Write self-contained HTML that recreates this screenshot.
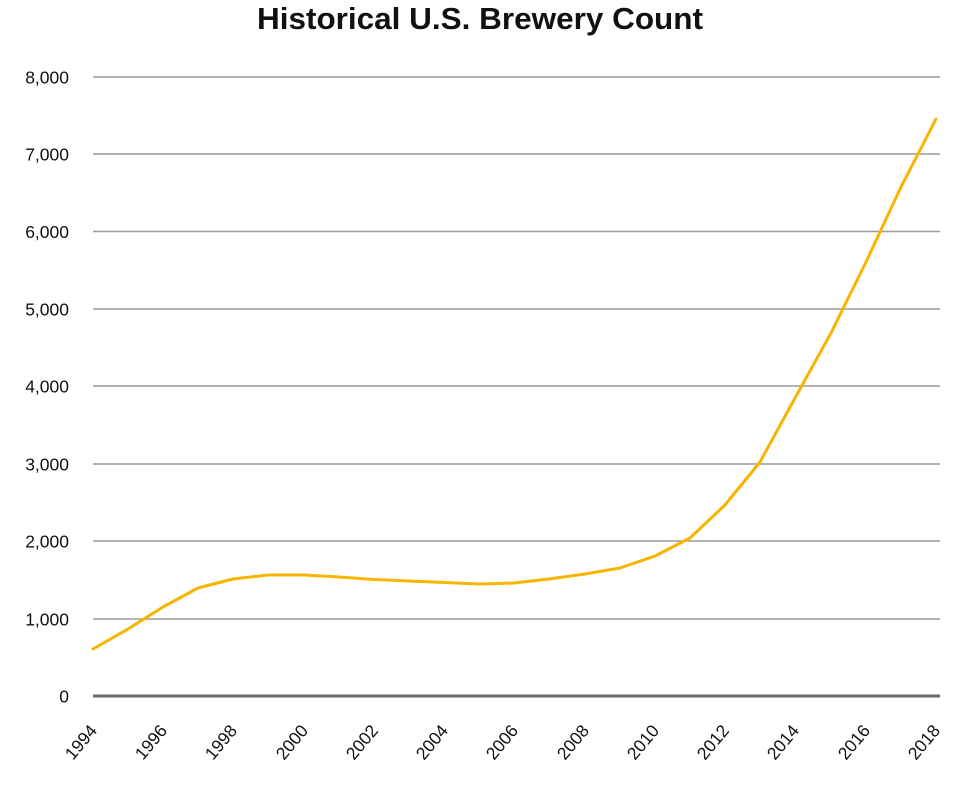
<!DOCTYPE html>
<html>
<head>
<meta charset="utf-8">
<style>
  html, body { margin: 0; padding: 0; background: #ffffff; }
  svg { display: block; }
  text { font-family: "Liberation Sans", "DejaVu Sans", sans-serif; fill: #111; }
</style>
</head>
<body>
<svg width="953" height="787" viewBox="0 0 953 787" xmlns="http://www.w3.org/2000/svg">
  <rect width="953" height="787" fill="#ffffff"/>
  <text x="480" y="29" text-anchor="middle" font-size="31" font-weight="bold" textLength="446" lengthAdjust="spacingAndGlyphs">Historical U.S. Brewery Count</text>

  <g stroke="#9a9a9a" stroke-width="1.4">
    <line x1="93" y1="77" x2="940" y2="77"/>
    <line x1="93" y1="154" x2="940" y2="154"/>
    <line x1="93" y1="231.5" x2="940" y2="231.5"/>
    <line x1="93" y1="309" x2="940" y2="309"/>
    <line x1="93" y1="386" x2="940" y2="386"/>
    <line x1="93" y1="464" x2="940" y2="464"/>
    <line x1="93" y1="541" x2="940" y2="541"/>
    <line x1="93" y1="619" x2="940" y2="619"/>
  </g>
  <line x1="93" y1="696" x2="940" y2="696" stroke="#6a6a6a" stroke-width="3"/>

  <g font-size="17.5" text-anchor="end">
    <text x="69" y="83.5">8,000</text>
    <text x="69" y="160.5">7,000</text>
    <text x="69" y="238">6,000</text>
    <text x="69" y="315.5">5,000</text>
    <text x="69" y="392.5">4,000</text>
    <text x="69" y="470.5">3,000</text>
    <text x="69" y="547.5">2,000</text>
    <text x="69" y="625.5">1,000</text>
    <text x="69" y="702.5">0</text>
  </g>

  <g font-size="17.5" text-anchor="end">
    <text transform="translate(98,731) rotate(-50)">1994</text>
    <text transform="translate(168,731) rotate(-50)">1996</text>
    <text transform="translate(238,731) rotate(-50)">1998</text>
    <text transform="translate(309,731) rotate(-50)">2000</text>
    <text transform="translate(379,731) rotate(-50)">2002</text>
    <text transform="translate(449,731) rotate(-50)">2004</text>
    <text transform="translate(519,731) rotate(-50)">2006</text>
    <text transform="translate(590,731) rotate(-50)">2008</text>
    <text transform="translate(660,731) rotate(-50)">2010</text>
    <text transform="translate(730,731) rotate(-50)">2012</text>
    <text transform="translate(800,731) rotate(-50)">2014</text>
    <text transform="translate(871,731) rotate(-50)">2016</text>
    <text transform="translate(941,731) rotate(-50)">2018</text>
  </g>

  <polyline fill="none" stroke="#F7B500" stroke-width="3" stroke-linejoin="round" stroke-linecap="round"
    points="93,649 128,629 163,607 198,588 233,579 268,575 304,575 339,577 374,579.5 409,581 444,582.5 479,584 514,583 549,579 585,574 620,568 655,556 690,538 725,505 760,462 795,398 831,333 866,262 901,187 936,119"/>
</svg>
</body>
</html>
